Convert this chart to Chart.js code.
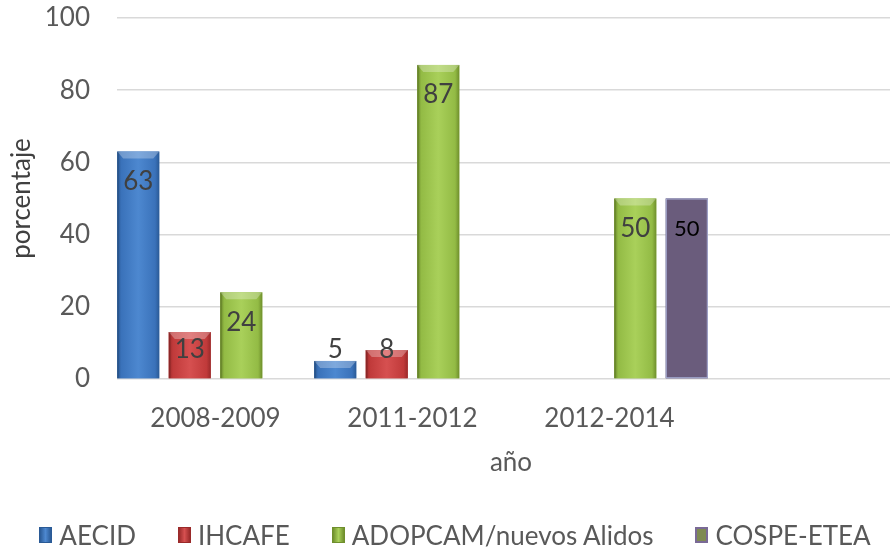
<!DOCTYPE html>
<html>
<head>
<meta charset="utf-8">
<script src="https://cdn.jsdelivr.net/npm/chart.js@4"></script>
<style>
  html, body { margin: 0; padding: 0; background: #fff; overflow: hidden; }
  #wrap { position: relative; width: 910px; height: 548px; }
  #legend { position: absolute; left: 0; top: 519px; width: 910px; display: flex; justify-content: center;
            font-family: Lato, sans-serif; font-size: 26px; color: #595959; }
  .item { display: flex; align-items: center; margin: 0 21px; }
  .box { width: 13px; height: 16px; margin-right: 7px; box-sizing: border-box; }
</style>
</head>
<body>
<div id="wrap">
  <canvas id="myChart" width="910" height="548"></canvas>
  <div id="legend"></div>
</div>
<script>
const anios = ['2008-2009', '2011-2012', '2012-2014', ''];
const aecid = [63, 5, null, null];
const ihcafe = [13, 8, null, null];
const adopcam = [24, 87, 50, null];
const cospe = [null, null, 50, null];

// colores tipo Excel: [oscuro, medio, claro]
const tonos = [
    ['#2a5a96', '#3a72ba', '#4d88d0'],
    ['#9a2a2a', '#c03a3a', '#d65050'],
    ['#6f8f2c', '#93bb45', '#a9d05a'],
    ['#6a5c7c', '#6a5c7c', '#6a5c7c']
];

const bisel = {
    id: 'bisel',
    afterDatasetsDraw(chart) {
        const ctx = chart.ctx;
        chart.data.datasets.forEach((ds, i) => {
            const meta = chart.getDatasetMeta(i);
            const t = tonos[i];
            meta.data.forEach((bar, j) => {
                const v = ds.data[j];
                if (v === null) return;
                const x0 = bar.x - bar.width / 2, x1 = bar.x + bar.width / 2;
                const top = bar.y, base = bar.base;
                ctx.save();
                if (i < 3) {
                    const g = ctx.createLinearGradient(x0, 0, x1, 0);
                    g.addColorStop(0, t[0]);
                    g.addColorStop(0.1, t[1]);
                    g.addColorStop(0.5, t[2]);
                    g.addColorStop(0.9, t[1]);
                    g.addColorStop(1, t[0]);
                    ctx.fillStyle = g;
                    ctx.fillRect(x0, top, x1 - x0, base - top);
                    const b = Math.min(7, (base - top) / 2);
                    ctx.fillStyle = 'rgba(255,255,255,0.28)';
                    ctx.beginPath();
                    ctx.moveTo(x0, top); ctx.lineTo(x1, top);
                    ctx.lineTo(x1 - 6, top + b); ctx.lineTo(x0 + 6, top + b);
                    ctx.closePath(); ctx.fill();
                    ctx.fillStyle = 'rgba(0,0,0,0.12)';
                    ctx.fillRect(x0, top, 2, base - top);
                } else {
                    ctx.fillStyle = t[1];
                    ctx.fillRect(x0, top, x1 - x0, base - top);
                    ctx.strokeStyle = '#a9b0d8';
                    ctx.lineWidth = 1;
                    ctx.strokeRect(x0 + 0.5, top + 0.5, x1 - x0 - 1, base - top - 1);
                }
                // etiqueta
                ctx.font = (i < 3 ? '26px' : '22px') + ' Lato, sans-serif';
                ctx.fillStyle = i < 3 ? '#404040' : '#000';
                ctx.textAlign = 'center';
                ctx.textBaseline = 'middle';
                const y = Math.min(top + 30, base - 29);
                ctx.fillText(String(v), bar.x, y);
                ctx.restore();
            });
        });
    }
};

const data = {
    labels: anios,
    datasets: [
        { label: 'AECID', data: aecid, backgroundColor: tonos[0][1] },
        { label: 'IHCAFE', data: ihcafe, backgroundColor: tonos[1][1] },
        { label: 'ADOPCAM/nuevos Alidos', data: adopcam, backgroundColor: tonos[2][1] },
        { label: 'COSPE-ETEA', data: cospe, backgroundColor: tonos[3][1] }
    ]
};

const config = {
    type: 'bar',
    data: data,
    plugins: [bisel],
    options: {
        responsive: false,
        animation: false,
        categoryPercentage: 1.046,
        barPercentage: 0.816,
        layout: { padding: { top: 18, right: 5, bottom: 70, left: 0 } },
        plugins: { legend: { display: false }, tooltip: { enabled: false } },
        scales: {
            x: {
                grid: { display: false },
                border: { display: false },
                ticks: { color: '#595959', font: { size: 26 }, padding: 16, maxRotation: 0 },
                title: { display: true, text: 'año', color: '#595959', font: { size: 26 }, padding: { top: 0, bottom: 0 } },
                afterFit: s => { s.height = 99; s.paddingLeft = 0; s.paddingRight = 0; }
            },
            y: {
                min: 0, max: 100,
                ticks: { stepSize: 20, color: '#595959', font: { size: 26 }, padding: 27 },
                grid: { color: '#d9d9d9', lineWidth: 1.5, drawTicks: false },
                border: { display: false },
                title: { display: true, text: 'porcentaje', color: '#404040', font: { size: 26 }, padding: { top: 6, bottom: 0 } },
                afterFit: s => { s.width = 117; s.paddingTop = 0; s.paddingBottom = 0; }
            }
        }
    }
};

Chart.defaults.font.family = 'Lato, sans-serif';
const myChart = new Chart(document.getElementById('myChart'), config);

// leyenda
const leyenda = document.getElementById('legend');
myChart.data.datasets.forEach((ds, i) => {
    const it = document.createElement('div');
    it.className = 'item';
    const box = document.createElement('span');
    box.className = 'box';
    const t = tonos[i];
    if (i < 3) {
        box.style.background = 'linear-gradient(to right,' + t[0] + ',' + t[2] + ' 50%,' + t[0] + ')';
        box.style.border = '1px solid ' + t[0];
    } else {
        box.style.background = '#7e8a52';
        box.style.border = '2px solid #7a6a96';
    }
    const txt = document.createElement('span');
    txt.textContent = ds.label;
    it.appendChild(box);
    it.appendChild(txt);
    leyenda.appendChild(it);
});
</script>
</body>
</html>
